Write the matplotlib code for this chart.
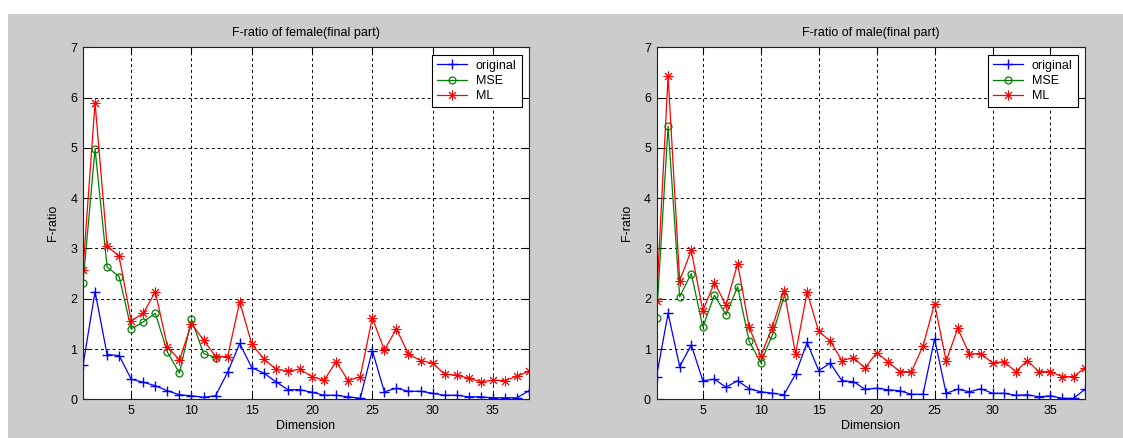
import matplotlib
matplotlib.use("Agg")
import matplotlib.pyplot as plt
from matplotlib.patches import Rectangle
import numpy as np

plt.rcParams['font.family'] = ['Liberation Sans', 'DejaVu Sans']

dims = np.arange(1, 39)
dims_mse = np.arange(1, 13)

# Female speakers
female_original = [0.68, 2.14, 0.89, 0.87, 0.40, 0.34, 0.27, 0.17, 0.09, 0.07,
                   0.04, 0.07, 0.54, 1.11, 0.63, 0.52, 0.35, 0.19, 0.19, 0.14,
                   0.08, 0.08, 0.05, 0.02, 0.97, 0.15, 0.22, 0.16, 0.16, 0.12,
                   0.08, 0.08, 0.05, 0.05, 0.03, 0.03, 0.03, 0.17]
female_mse = [2.31, 4.98, 2.63, 2.44, 1.40, 1.54, 1.71, 0.94, 0.52, 1.59,
              0.91, 0.83]
female_ml = [2.57, 5.90, 3.05, 2.84, 1.56, 1.71, 2.14, 1.05, 0.78, 1.50,
             1.18, 0.85, 0.85, 1.94, 1.10, 0.80, 0.60, 0.56, 0.60, 0.45,
             0.38, 0.75, 0.37, 0.45, 1.62, 0.98, 1.40, 0.90, 0.77, 0.72,
             0.50, 0.48, 0.42, 0.35, 0.38, 0.37, 0.46, 0.56]

# Male speakers
male_original = [0.45, 1.71, 0.65, 1.08, 0.37, 0.40, 0.24, 0.37, 0.21, 0.15,
                 0.12, 0.09, 0.50, 1.13, 0.57, 0.72, 0.37, 0.35, 0.20, 0.22,
                 0.19, 0.17, 0.10, 0.10, 1.20, 0.12, 0.20, 0.15, 0.21, 0.12,
                 0.12, 0.08, 0.09, 0.05, 0.07, 0.02, 0.02, 0.20]
male_mse = [1.61, 5.43, 2.04, 2.50, 1.44, 2.07, 1.68, 2.24, 1.15, 0.73,
            1.28, 2.03]
male_ml = [1.96, 6.43, 2.36, 2.96, 1.76, 2.32, 1.87, 2.70, 1.43, 0.86,
           1.44, 2.16, 0.91, 2.13, 1.35, 1.16, 0.77, 0.83, 0.62, 0.93,
           0.74, 0.55, 0.55, 1.06, 1.90, 0.76, 1.41, 0.90, 0.91, 0.72,
           0.75, 0.55, 0.77, 0.55, 0.55, 0.45, 0.45, 0.63]

W, H = 1123, 438
fig = plt.figure(figsize=(W / 100, H / 100), dpi=100, facecolor='white')
fig.patches.append(Rectangle((8 / W, 0), 1 - 8 / W, (H - 14) / H,
                             transform=fig.transFigure, facecolor='#cccccc',
                             edgecolor='none', zorder=-10))

# asterisk marker: eight spokes (a plus overlaid with a cross)
ASTERISK = (8, 2, 0)


def panel(rect, title, orig, mse, ml):
    ax = fig.add_axes(rect)
    ax.set_facecolor('white')
    ax.plot(dims, orig, color='#0000ff', marker='+', markersize=6.5,
            linewidth=0.9, markeredgewidth=1.0, label='original')
    ax.plot(dims_mse, mse, color='#008000', marker='o', markersize=5,
            markerfacecolor='none', linewidth=0.9, markeredgewidth=0.9,
            label='MSE')
    ax.plot(dims, ml, color='#ff0000', marker=ASTERISK, markersize=7,
            linewidth=0.9, markeredgewidth=0.7, label='ML')
    ax.set_xlim(1, 38)
    ax.set_ylim(0, 7)
    ax.set_xticks([5, 10, 15, 20, 25, 30, 35])
    ax.set_yticks(range(8))
    ax.grid(True, color='black', linestyle=(0, (3, 3)), linewidth=0.7)
    ax.tick_params(direction='in', length=4, width=0.8, top=True, right=True,
                   labelsize=9, pad=4, colors='black')
    for s in ax.spines.values():
        s.set_linewidth(0.8)
        s.set_color('#222222')
    ax.set_title(title, fontsize=9, pad=8)
    ax.set_xlabel('Dimension', fontsize=9, labelpad=2)
    ax.set_ylabel('F-ratio', fontsize=9, labelpad=8)
    leg = ax.legend(loc='upper right', fontsize=9, fancybox=False,
                    framealpha=1, edgecolor='black', handlelength=2.4,
                    borderaxespad=0.6, labelspacing=0.25, borderpad=0.4,
                    handletextpad=0.7)
    leg.get_frame().set_linewidth(0.8)
    return ax


panel([83 / W, (H - 399.3) / H, 446 / W, 352 / H],
      'F-ratio of female(final part)', female_original, female_mse, female_ml)
panel([656.5 / W, (H - 399.3) / H, 428.7 / W, 352 / H],
      'F-ratio of male(final part)', male_original, male_mse, male_ml)

fig.savefig('out.png', dpi=100, facecolor=fig.get_facecolor())
